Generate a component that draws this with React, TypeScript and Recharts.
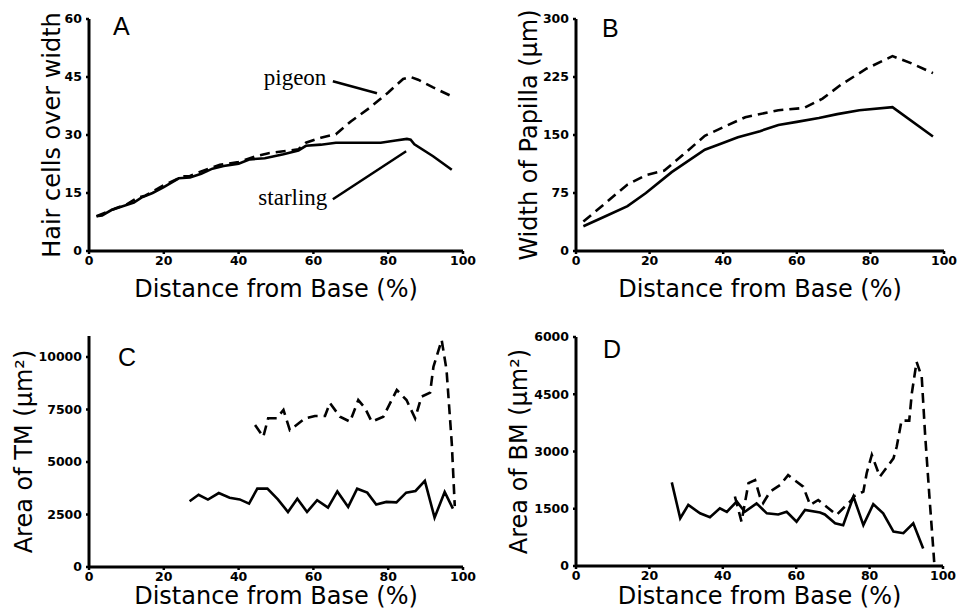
import React from "react"
import { LineChart, Line, XAxis, YAxis, Label, ReferenceLine, ReferenceDot } from "recharts"

// distance from base (%) is the x for every panel
const distanceTicks = [0, 20, 40, 60, 80, 100]

// A: hair cells over width
const starlingAx = [2, 3.5, 6, 9, 12, 14, 17, 20, 24, 27, 30, 33, 36, 40, 43, 47, 52, 56, 58, 62, 66, 72, 78, 82, 85, 86, 87, 92, 97]
const starlingAy = [9, 9.2, 10.6, 11.6, 12.5, 13.8, 15, 16.5, 18.8, 19, 20, 21.3, 22, 22.6, 23.7, 24, 25, 26, 27.2, 27.5, 28, 28, 28, 28.6, 29, 28.8, 27.6, 24.5, 21]
const pigeonAx = [2, 4, 7, 10, 13, 15, 20, 25, 27, 30, 35, 40, 44, 48, 52, 56, 58, 62, 66, 70, 75, 80, 84, 86, 88, 92, 97]
const pigeonAy = [9, 9.8, 11, 12, 13.8, 14.3, 17, 19.3, 19.4, 20.6, 22.3, 23, 24.3, 25.3, 25.8, 26.3, 28, 29.3, 30.2, 33.5, 37, 41, 44.5, 45, 44.3, 42.3, 40]
const ticksA = [0, 15, 30, 45, 60]

// B: width of papilla (um)
const starlingBx = [2, 8, 14, 19, 26, 35, 39, 44, 50, 55, 60, 66, 71, 77, 86, 97]
const starlingBy = [32, 45, 58, 75, 102, 131, 138, 147, 155, 163, 167, 172, 177, 182, 186, 148]
const pigeonBx = [2, 8, 14, 19, 24, 29, 35, 40, 46, 55, 62, 67, 72, 79, 86, 91, 97]
const pigeonBy = [38, 62, 86, 98, 104, 124, 149, 160, 173, 182, 185, 197, 215, 236, 252, 243, 230]
const ticksB = [0, 75, 150, 225, 300]

// C: area of TM (um^2)
const starlingCx = [26.9, 29.3, 31.8, 34.7, 37.6, 40.3, 42.8, 45, 47.7, 50.5, 53.2, 55.7, 58.3, 61, 63.9, 66.4, 69.3, 71.7, 74.4, 76.8, 79.5, 82.2, 84.8, 87.3, 89.8, 92.4, 95.1, 97.3]
const starlingCy = [3130, 3440, 3210, 3520, 3300, 3220, 3020, 3730, 3730, 3220, 2620, 3250, 2620, 3180, 2830, 3600, 2860, 3730, 3540, 2980, 3100, 3080, 3540, 3620, 4100, 2350, 3570, 2780]
const pigeonCx = [44.4, 46.6, 47.9, 50.2, 52, 53.7, 57.8, 60.4, 63.1, 64.4, 67.1, 69.8, 72, 73.8, 75.6, 78.7, 82.3, 84.9, 87.2, 88.9, 91.2, 92.1, 94.3, 95.6, 97, 97.8]
const pigeonCy = [6760, 6200, 7080, 7080, 7480, 6520, 7080, 7190, 7190, 7810, 7160, 6920, 7950, 7570, 6920, 7160, 8430, 7950, 7080, 8110, 8300, 9540, 10810, 9380, 5890, 2900]
const ticksC = [0, 2500, 5000, 7500, 10000]

// D: area of BM (um^2)
const starlingDx = [26.1, 28.4, 30.6, 33.8, 36.5, 39.2, 41.1, 43.8, 46, 49.2, 52, 55.1, 57.4, 60.1, 62.4, 66.5, 67.8, 70.6, 72.8, 75.6, 78.3, 81, 83.7, 86.5, 89.2, 91.9, 94.6]
const starlingDy = [2190, 1250, 1600, 1380, 1280, 1510, 1420, 1690, 1420, 1640, 1380, 1350, 1420, 1160, 1470, 1400, 1350, 1120, 1070, 1820, 1070, 1620, 1380, 900, 860, 1120, 460]
const pigeonDx = [43.3, 45.1, 47, 48.8, 50.1, 51, 52.9, 55.6, 57.8, 61.9, 63.8, 66, 71, 75.1, 75.6, 78.3, 79.2, 80.6, 82.8, 86.5, 87.4, 88.7, 90.8, 91.5, 92.8, 94.2, 95.1, 96.3, 97.4, 97.6]
const pigeonDy = [1820, 1160, 2170, 2250, 1820, 1650, 1950, 2120, 2380, 2080, 1600, 1730, 1340, 1730, 1820, 1950, 2430, 2910, 2340, 2820, 3130, 3810, 3810, 4520, 5350, 4960, 3480, 1820, 380, 100]
const ticksD = [0, 1500, 3000, 4500, 6000]

const zip = (xs: number[], ys: number[]) => xs.map((x, i) => ({ x, y: ys[i] }))

const tickStyle = { fill: "#000", fontSize: 12.5, fontWeight: 700, fontFamily: "DejaVu Sans" }
const titleStyle = { fill: "#000", fontSize: 24, fontFamily: "DejaVu Sans" }
const axisStroke = { stroke: "#000", strokeWidth: 3 }
const tickStroke = { stroke: "#000", strokeWidth: 2.5 }

type Pt = { x: number; y: number }

function Panel(props: {
  left: number
  top: number
  letter: string
  letterPos: [number, number]
  yLabel: string
  yMax: number
  yTicks: number[]
  solid: Pt[]
  dashed: Pt[]
  margin: { top: number; right: number; bottom: number; left: number }
  yLabelOffset: number
  xLabelOffset: number
  children?: React.ReactNode
}) {
  return (
    <div style={{ position: "absolute", left: props.left, top: props.top, width: 480, height: 306 }}>
      <LineChart width={480} height={306} margin={props.margin}>
        <XAxis
          dataKey="x"
          type="number"
          domain={[0, 100]}
          ticks={distanceTicks}
          interval={0}
          height={30}
          axisLine={axisStroke}
          tickLine={tickStroke}
          tickSize={3}
          tick={tickStyle}
        >
          <Label value="Distance from Base (%)" position="bottom" offset={props.xLabelOffset} style={titleStyle} />
        </XAxis>
        <YAxis
          type="number"
          domain={[0, props.yMax]}
          ticks={props.yTicks}
          interval={0}
          width={50}
          axisLine={axisStroke}
          tickLine={tickStroke}
          tickSize={3}
          tickMargin={4}
          tick={tickStyle}
        >
          <Label
            value={props.yLabel}
            angle={-90}
            position="insideLeft"
            offset={props.yLabelOffset}
            style={{ ...titleStyle, textAnchor: "middle" }}
          />
        </YAxis>
        <Line data={props.solid} dataKey="y" type="linear" stroke="#000" strokeWidth={2.6} dot={false} isAnimationActive={false} />
        <Line
          data={props.dashed}
          dataKey="y"
          type="linear"
          stroke="#000"
          strokeWidth={2.6}
          strokeDasharray="10 6"
          dot={false}
          isAnimationActive={false}
        />
        {props.children}
      </LineChart>
      <div
        style={{
          position: "absolute",
          left: props.letterPos[0],
          top: props.letterPos[1],
          fontFamily: "Liberation Sans",
          fontSize: 25,
          lineHeight: 1,
          color: "#000",
        }}
      >
        {props.letter}
      </div>
    </div>
  )
}

const noteStyle = { fill: "#000", fontSize: 23, fontFamily: "Liberation Serif" }

export default function App() {
  return (
    <div style={{ position: "absolute", left: 0, top: 0, width: 960, height: 612, background: "#fff" }}>
      <Panel
        left={0}
        top={0}
        letter="A"
        letterPos={[113, 14]}
        yLabel="Hair cells over width"
        yMax={60}
        yTicks={ticksA}
        solid={zip(starlingAx, starlingAy)}
        dashed={zip(pigeonAx, pigeonAy)}
        margin={{ top: 19, right: 17, bottom: 25, left: 39 }}
        yLabelOffset={12}
        xLabelOffset={-1}
      >
        <ReferenceLine segment={[{ x: 65.2, y: 43.9 }, { x: 77, y: 40.8 }]} stroke="#000" strokeWidth={2.5} />
        <ReferenceLine segment={[{ x: 65.2, y: 13.4 }, { x: 84.8, y: 25.8 }]} stroke="#000" strokeWidth={2.5} />
        <ReferenceDot x={55.1} y={45} r={0} fill="none" stroke="none" label={{ value: "pigeon", position: "center", style: noteStyle }} />
        <ReferenceDot x={54.5} y={14} r={0} fill="none" stroke="none" label={{ value: "starling", position: "center", style: noteStyle }} />
      </Panel>
      <Panel
        left={480}
        top={0}
        letter="B"
        letterPos={[122, 16]}
        yLabel="Width of Papilla (μm)"
        yMax={300}
        yTicks={ticksB}
        solid={zip(starlingBx, starlingBy)}
        dashed={zip(pigeonBx, pigeonBy)}
        margin={{ top: 19, right: 16, bottom: 25, left: 46 }}
        yLabelOffset={2}
        xLabelOffset={-1}
      />
      <Panel
        left={0}
        top={306}
        letter="C"
        letterPos={[118, 39]}
        yLabel="Area of TM (μm²)"
        yMax={11000}
        yTicks={ticksC}
        solid={zip(starlingCx, starlingCy)}
        dashed={zip(pigeonCx, pigeonCy)}
        margin={{ top: 30, right: 17, bottom: 15, left: 39 }}
        yLabelOffset={-16}
        xLabelOffset={-10}
      />
      <Panel
        left={480}
        top={306}
        letter="D"
        letterPos={[123, 31]}
        yLabel="Area of BM (μm²)"
        yMax={6000}
        yTicks={ticksD}
        solid={zip(starlingDx, starlingDy)}
        dashed={zip(pigeonDx, pigeonDy)}
        margin={{ top: 31, right: 17, bottom: 16, left: 46 }}
        yLabelOffset={-8}
        xLabelOffset={-9}
      />
    </div>
  )
}
